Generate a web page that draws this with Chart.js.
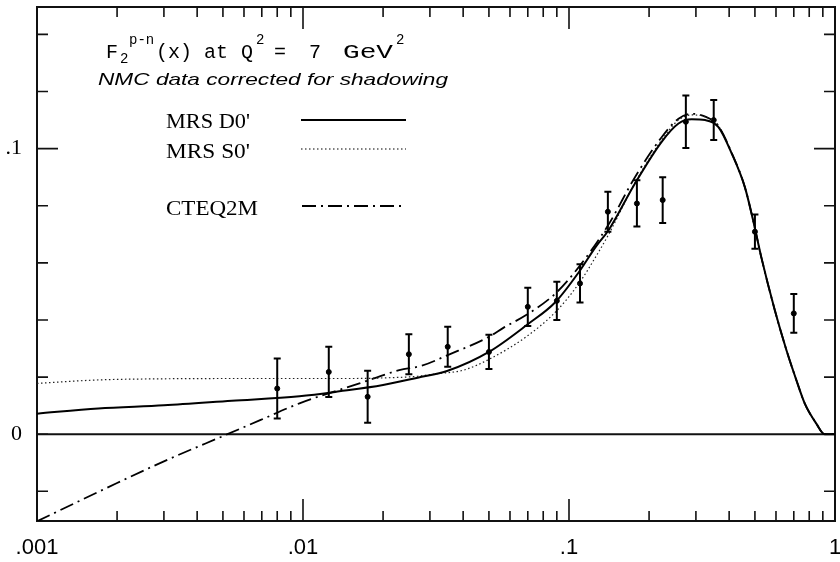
<!DOCTYPE html>
<html>
<head>
<meta charset="utf-8">
<script src="https://cdn.jsdelivr.net/npm/chart.js@4.4.1/dist/chart.umd.min.js"></script>
<style>
  body { margin: 0; background: #fff; }
  #wrap { width: 840px; height: 562px; }
</style>
</head>
<body>
<div id="wrap"><canvas id="f2Chart" width="840" height="562"></canvas></div>
<script>
// NMC data, corrected for shadowing
const nmcX = [0.008, 0.0125, 0.0175, 0.025, 0.035, 0.05, 0.07, 0.09, 0.11, 0.14, 0.18, 0.225, 0.275, 0.35, 0.5, 0.7];
const nmcY = [0.0160, 0.0218, 0.0131, 0.0280, 0.0306, 0.0288, 0.0446, 0.0467, 0.0528, 0.0779, 0.0808, 0.0820, 0.1094, 0.1100, 0.0709, 0.0423];
const nmcErr = [0.0105, 0.0088, 0.0091, 0.0070, 0.0070, 0.0060, 0.0067, 0.0067, 0.0067, 0.0070, 0.0081, 0.0080, 0.0092, 0.0070, 0.0060, 0.0068];

// MRS D0' (solid)
const d0X = [0.001, 0.0017, 0.003, 0.0054, 0.0097, 0.0137, 0.02, 0.027, 0.035, 0.05, 0.07, 0.089, 0.109, 0.126, 0.141, 0.177, 0.223, 0.258, 0.289, 0.325, 0.364, 0.409, 0.458, 0.492, 0.528, 0.594, 0.657, 0.716, 0.77, 0.851, 0.914, 1.0];
const d0Y = [0.0072, 0.0090, 0.0101, 0.0117, 0.0133, 0.0150, 0.0172, 0.0198, 0.0222, 0.0288, 0.0385, 0.0463, 0.0568, 0.0656, 0.0715, 0.0878, 0.1024, 0.1088, 0.1103, 0.1100, 0.1076, 0.0983, 0.0866, 0.0750, 0.0621, 0.0434, 0.0294, 0.0189, 0.0107, 0.0037, 0.0, 0.0];

// MRS S0' (dotted)
const s0X = [0.001, 0.0017, 0.003, 0.006, 0.01, 0.015, 0.02, 0.027, 0.032, 0.04, 0.05, 0.069, 0.089, 0.109, 0.126, 0.141, 0.177, 0.223, 0.258, 0.289, 0.325, 0.364, 0.409, 0.458, 0.492, 0.528, 0.594, 0.657, 0.716, 0.77, 0.851, 0.914, 1.0];
const s0Y = [0.0178, 0.0190, 0.0194, 0.0195, 0.0195, 0.0195, 0.0197, 0.0203, 0.0212, 0.0224, 0.0262, 0.0341, 0.0428, 0.0528, 0.0621, 0.0700, 0.0880, 0.1030, 0.1100, 0.1118, 0.1112, 0.1080, 0.0985, 0.0866, 0.0750, 0.0621, 0.0434, 0.0294, 0.0189, 0.0107, 0.0037, 0.0, 0.0];

// CTEQ2M (dash-dot)
const cteqX = [0.001, 0.002, 0.003, 0.0052, 0.0069, 0.0097, 0.0163, 0.023, 0.028, 0.035, 0.05, 0.057, 0.069, 0.089, 0.109, 0.141, 0.177, 0.223, 0.258, 0.289, 0.325, 0.364, 0.409, 0.458, 0.492, 0.528, 0.594, 0.657, 0.716, 0.77, 0.851, 0.914, 1.0];
const cteqY = [-0.0305, -0.0171, -0.0095, 0.0, 0.0049, 0.0108, 0.0178, 0.0224, 0.0240, 0.0277, 0.0341, 0.0374, 0.0417, 0.0493, 0.0586, 0.0735, 0.0900, 0.1040, 0.1105, 0.1122, 0.1112, 0.1080, 0.0985, 0.0866, 0.0750, 0.0621, 0.0434, 0.0294, 0.0189, 0.0107, 0.0037, 0.0, 0.0];

// axis ticks
const xLabelTicks = [0.001, 0.01, 0.1, 1];
const xLabelText = ['.001', '.01', '.1', '1'];
const xMinorTicks = [0.002, 0.003, 0.004, 0.005, 0.006, 0.007, 0.008, 0.009,
                     0.02, 0.03, 0.04, 0.05, 0.06, 0.07, 0.08, 0.09,
                     0.2, 0.3, 0.4, 0.5, 0.6, 0.7, 0.8, 0.9];
const yTickMarks = [-0.02, 0, 0.02, 0.04, 0.06, 0.08, 0.1, 0.12, 0.14];
const yLabelTicks = [0, 0.1];
const yLabelText = ['0', '.1'];

const toPts = (xs, ys) => xs.map((v, i) => ({ x: v, y: ys[i] }));

// draw text, optionally squeezed/stretched to a given width
function fitText(ctx, str, x, y, font, w) {
    ctx.font = font;
    const m = ctx.measureText(str).width;
    ctx.save();
    ctx.translate(x, y);
    if (w) ctx.scale(w / m, 1);
    ctx.fillText(str, 0, 0);
    ctx.restore();
}

const paperAxes = {
    id: 'paperAxes',
    beforeDatasetsDraw(chart) {
        const { ctx, chartArea: a, scales: { x, y } } = chart;
        ctx.save();
        ctx.strokeStyle = '#111';
        ctx.lineWidth = 2;
        ctx.strokeRect(a.left, a.top, a.right - a.left, a.bottom - a.top);

        // zero line
        const y0 = y.getPixelForValue(0);
        ctx.beginPath();
        ctx.moveTo(a.left, y0);
        ctx.lineTo(a.right, y0);
        ctx.stroke();

        // inward ticks, top and bottom
        ctx.lineWidth = 1.6;
        const xt = xLabelTicks.map(v => [v, 22]).concat(xMinorTicks.map(v => [v, 10]));
        xt.forEach(([v, len]) => {
            const px = x.getPixelForValue(v);
            ctx.beginPath();
            ctx.moveTo(px, a.bottom);
            ctx.lineTo(px, a.bottom - len);
            ctx.moveTo(px, a.top);
            ctx.lineTo(px, a.top + len);
            ctx.stroke();
        });

        // inward ticks, left and right
        yTickMarks.forEach(v => {
            const py = y.getPixelForValue(v);
            const len = Math.abs(v - 0.1) < 1e-9 ? 21 : 11;
            ctx.beginPath();
            ctx.moveTo(a.left, py);
            ctx.lineTo(a.left + len, py);
            ctx.moveTo(a.right, py);
            ctx.lineTo(a.right - len, py);
            ctx.stroke();
        });
        ctx.restore();
    },
    afterDatasetsDraw(chart) {
        const { ctx, scales: { x, y } } = chart;
        ctx.save();
        ctx.strokeStyle = '#000';
        ctx.lineWidth = 2;
        nmcX.forEach((v, i) => {
            const px = x.getPixelForValue(v);
            const top = y.getPixelForValue(nmcY[i] + nmcErr[i]);
            const bot = y.getPixelForValue(nmcY[i] - nmcErr[i]);
            ctx.beginPath();
            ctx.moveTo(px, top);
            ctx.lineTo(px, bot);
            ctx.moveTo(px - 3.5, top);
            ctx.lineTo(px + 3.5, top);
            ctx.moveTo(px - 3.5, bot);
            ctx.lineTo(px + 3.5, bot);
            ctx.stroke();
        });
        ctx.restore();
    },
    afterDraw(chart) {
        const ctx = chart.ctx;
        ctx.save();
        ctx.fillStyle = '#000';
        ctx.textBaseline = 'alphabetic';

        // title F2^(p-n)(x) at Q^2 = 7 GeV^2
        const big = "20px 'Liberation Mono'";
        const small = "14px 'Liberation Mono'";
        fitText(ctx, 'F', 106, 58, big);
        fitText(ctx, '2', 120, 63, small);
        fitText(ctx, 'p-n', 129, 44, small);
        fitText(ctx, '(x)', 156, 58, big);
        fitText(ctx, 'at', 204, 58, big);
        fitText(ctx, 'Q', 241, 58, big);
        fitText(ctx, '2', 256, 44, small);
        fitText(ctx, '=', 274, 58, big);
        fitText(ctx, '7', 309, 58, big);
        fitText(ctx, 'GeV', 343, 58, big, 50);
        fitText(ctx, '2', 396, 44, small);

        fitText(ctx, 'NMC data corrected for shadowing', 98, 85, "italic 17px 'Liberation Sans'", 350);

        // legend
        const lab = "22px 'Liberation Serif'";
        fitText(ctx, "MRS D0'", 166, 128, lab, 84);
        fitText(ctx, "MRS S0'", 166, 158, lab, 84);
        fitText(ctx, 'CTEQ2M', 166, 215, lab, 92);

        ctx.strokeStyle = '#000';
        ctx.lineWidth = 2;
        ctx.beginPath(); ctx.moveTo(301, 120); ctx.lineTo(406, 120); ctx.stroke();
        ctx.lineWidth = 1.2;
        ctx.setLineDash([1.5, 2.5]);
        ctx.beginPath(); ctx.moveTo(301, 149); ctx.lineTo(406, 149); ctx.stroke();
        ctx.lineWidth = 1.8;
        ctx.setLineDash([14, 5, 2, 5]);
        ctx.beginPath(); ctx.moveTo(302, 206); ctx.lineTo(406, 206); ctx.stroke();
        ctx.restore();
    }
};

const ctx = document.getElementById('f2Chart').getContext('2d');
new Chart(ctx, {
    type: 'line',
    data: {
        datasets: [
            {
                label: "MRS D0'",
                data: toPts(d0X, d0Y),
                borderColor: '#000',
                borderWidth: 2,
                pointRadius: 0,
                cubicInterpolationMode: 'monotone'
            },
            {
                label: "MRS S0'",
                data: toPts(s0X, s0Y),
                borderColor: '#222',
                borderWidth: 1.2,
                borderDash: [1.5, 2.5],
                pointRadius: 0,
                cubicInterpolationMode: 'monotone'
            },
            {
                label: 'CTEQ2M',
                data: toPts(cteqX, cteqY),
                borderColor: '#000',
                borderWidth: 1.8,
                borderDash: [14, 5, 2, 5],
                pointRadius: 0,
                cubicInterpolationMode: 'monotone'
            },
            {
                label: 'NMC',
                data: toPts(nmcX, nmcY),
                showLine: false,
                pointRadius: 2.5,
                pointBackgroundColor: '#000',
                pointBorderColor: '#000'
            }
        ]
    },
    options: {
        responsive: false,
        animation: false,
        layout: { padding: { top: 7, right: 3, left: 0, bottom: 0 } },
        plugins: {
            legend: { display: false },
            tooltip: { enabled: false }
        },
        scales: {
            x: {
                type: 'logarithmic',
                min: 0.001,
                max: 1,
                grid: { display: false },
                border: { display: false },
                afterBuildTicks: s => { s.ticks = xLabelTicks.map(v => ({ value: v })); },
                afterFit: s => { s.height = 41; s.paddingLeft = 0; s.paddingRight = 0; },
                ticks: {
                    autoSkip: false,
                    maxRotation: 0,
                    padding: 6,
                    color: '#000',
                    font: { family: 'Liberation Sans', size: 22 },
                    callback: (v, i) => xLabelText[i]
                }
            },
            y: {
                min: -0.0304,
                max: 0.1496,
                grid: { display: false },
                border: { display: false },
                afterBuildTicks: s => { s.ticks = yLabelTicks.map(v => ({ value: v })); },
                afterFit: s => { s.width = 37; s.paddingTop = 0; s.paddingBottom = 0; },
                ticks: {
                    padding: 7,
                    color: '#000',
                    font: { family: 'Liberation Serif', size: 22 },
                    callback: (v, i) => yLabelText[i]
                }
            }
        }
    },
    plugins: [paperAxes]
});
</script>
</body>
</html>
